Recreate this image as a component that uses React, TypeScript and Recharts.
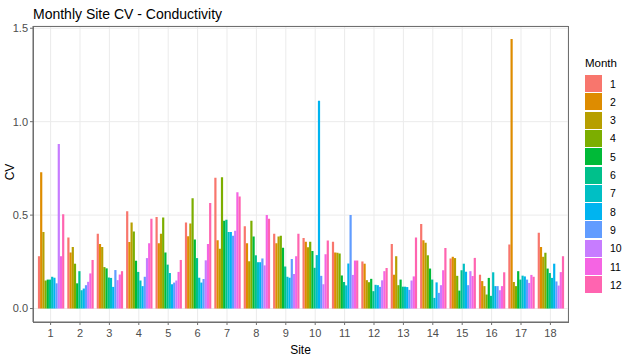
import { BarChart, Bar, XAxis, YAxis, CartesianGrid } from 'recharts';

const sites = ['1', '2', '3', '4', '5', '6', '7', '8', '9', '10', '11', '12', '13', '14', '15', '16', '17', '18'];
const months = ['1', '2', '3', '4', '5', '6', '7', '8', '9', '10', '11', '12'];
const monthColors = ['#F8766D', '#DE8C00', '#B79F00', '#7CAE00', '#00BA38', '#00C08B', '#00BFC4', '#00B4F0', '#619CFF', '#C77CFF', '#F564E3', '#FF64B0'];

// CV per site, one array per month
const cvMonth1 = [0.28, 0.38, 0.40, 0.52, 0.49, 0.46, 0.70, 0.44, 0.40, 0.378, 0.357, 0.252, 0.345, 0.452, 0.268, 0.181, 0.343, 0.405];
const cvMonth2 = [0.73, 0.30, 0.345, 0.356, 0.35, 0.387, 0.365, 0.35, 0.35, 0.358, 0.30, 0.24, 0.181, 0.366, 0.277, 0.147, 1.443, 0.33];
const cvMonth3 = [0.41, 0.33, 0.33, 0.46, 0.40, 0.455, 0.32, 0.253, 0.385, 0.328, 0.298, 0.152, 0.28, 0.352, 0.27, 0.12, 0.142, 0.277];
const cvMonth4 = [0.15, 0.24, 0.222, 0.412, 0.487, 0.59, 0.703, 0.47, 0.39, 0.358, 0.294, 0.141, 0.125, 0.285, 0.175, 0.075, 0.12, 0.298];
const cvMonth5 = [0.155, 0.135, 0.215, 0.256, 0.30, 0.37, 0.47, 0.386, 0.325, 0.308, 0.177, 0.159, 0.155, 0.214, 0.096, 0.164, 0.20, 0.214];
const cvMonth6 = [0.155, 0.20, 0.166, 0.196, 0.235, 0.27, 0.475, 0.285, 0.225, 0.218, 0.142, 0.093, 0.117, 0.155, 0.205, 0.068, 0.155, 0.19];
const cvMonth7 = [0.17, 0.098, 0.164, 0.15, 0.19, 0.165, 0.41, 0.248, 0.17, 0.286, 0.124, 0.127, 0.117, 0.057, 0.24, 0.194, 0.176, 0.164];
const cvMonth8 = [0.165, 0.107, 0.116, 0.12, 0.13, 0.139, 0.41, 0.248, 0.165, 1.112, 0.241, 0.125, 0.115, 0.14, 0.197, 0.12, 0.172, 0.24];
const cvMonth9 = [0.135, 0.125, 0.206, 0.17, 0.139, 0.158, 0.39, 0.268, 0.265, 0.175, 0.50, 0.116, 0.10, 0.084, 0.125, 0.12, 0.155, 0.145];
const cvMonth10 = [0.88, 0.143, 0.152, 0.27, 0.15, 0.258, 0.416, 0.231, 0.185, 0.13, 0.18, 0.151, 0.15, 0.125, 0.20, 0.098, 0.137, 0.123];
const cvMonth11 = [0.28, 0.188, 0.182, 0.35, 0.196, 0.345, 0.623, 0.50, 0.28, 0.29, 0.257, 0.20, 0.172, 0.205, 0.174, 0.12, 0.18, 0.195];
const cvMonth12 = [0.505, 0.26, 0.20, 0.48, 0.26, 0.565, 0.60, 0.48, 0.40, 0.364, 0.257, 0.217, 0.38, 0.324, 0.271, 0.194, 0.17, 0.28];

const cvByMonth = [cvMonth1, cvMonth2, cvMonth3, cvMonth4, cvMonth5, cvMonth6, cvMonth7, cvMonth8, cvMonth9, cvMonth10, cvMonth11, cvMonth12];
const yTicks = [0, 0.5, 1, 1.5];

const data = sites.map((site, i) => {
  const row: Record<string, string | number> = { site };
  months.forEach((m, j) => { row['m' + m] = cvByMonth[j][i]; });
  return row;
});

const FONT = '"Liberation Sans", Arial, sans-serif';
const BORDER = '#6f6f6f';
const W = 624;
const H = 357;
const M = { top: 26, right: 56, bottom: 0, left: 0 };
const Y_W = 33;
const X_H = 35;

export default function App() {
  return (
    <div style={{ position: 'relative', width: W, height: H, background: '#fff', fontFamily: FONT }}>
      <style>{'body{margin:0}'}</style>
      <div style={{ position: 'absolute', left: 33, top: 6, fontSize: 14, color: '#000' }}>Monthly Site CV - Conductivity</div>
      <div style={{ position: 'absolute', left: 10, top: 172, transform: 'translate(-50%, -50%) rotate(-90deg)', fontSize: 12, color: '#000' }}>CV</div>

      <BarChart width={W} height={H} data={data} margin={M} barGap={0} barSize={2.2}>
        <CartesianGrid stroke="#ebebeb" strokeWidth={1} />
        <XAxis
          dataKey="site"
          padding={{ left: 2.9, right: 2.9 }}
          height={X_H}
          tickLine={{ stroke: BORDER }}
          tickSize={3}
          tickMargin={4}
          axisLine={{ stroke: BORDER }}
          tick={{ fill: '#4d4d4d', fontSize: 11, fontFamily: FONT }}
          label={{ value: 'Site', position: 'insideBottom', offset: 3, fill: '#000', fontSize: 12, fontFamily: FONT }}
        />
        <YAxis
          width={Y_W}
          domain={[-0.072, 1.512]}
          ticks={yTicks}
          allowDataOverflow
          tickFormatter={(v) => Number(v).toFixed(1)}
          tickLine={{ stroke: BORDER }}
          tickSize={3}
          axisLine={{ stroke: BORDER }}
          tick={{ fill: '#4d4d4d', fontSize: 11, fontFamily: FONT }}
        />
        {months.map((m, j) => (
          <Bar key={m} dataKey={'m' + m} fill={monthColors[j]} isAnimationActive={false} />
        ))}
      </BarChart>

      {/* panel border */}
      <div
        style={{
          position: 'absolute',
          left: M.left + Y_W - 0.5,
          top: M.top - 0.5,
          width: W - M.left - M.right - Y_W + 1,
          height: H - M.top - M.bottom - X_H + 1,
          border: `1px solid ${BORDER}`,
          boxSizing: 'border-box',
          pointerEvents: 'none',
        }}
      />

      <div style={{ position: 'absolute', left: 585, top: 57, fontSize: 11.5, color: '#000' }}>Month</div>
      {months.map((m, j) => (
        <div key={m} style={{ position: 'absolute', left: 585, top: 75 + j * 18.3, display: 'flex', alignItems: 'center' }}>
          <div style={{ width: 17, height: 17, background: monthColors[j] }} />
          <span style={{ marginLeft: 8, fontSize: 10.5, color: '#000' }}>{m}</span>
        </div>
      ))}
    </div>
  );
}
